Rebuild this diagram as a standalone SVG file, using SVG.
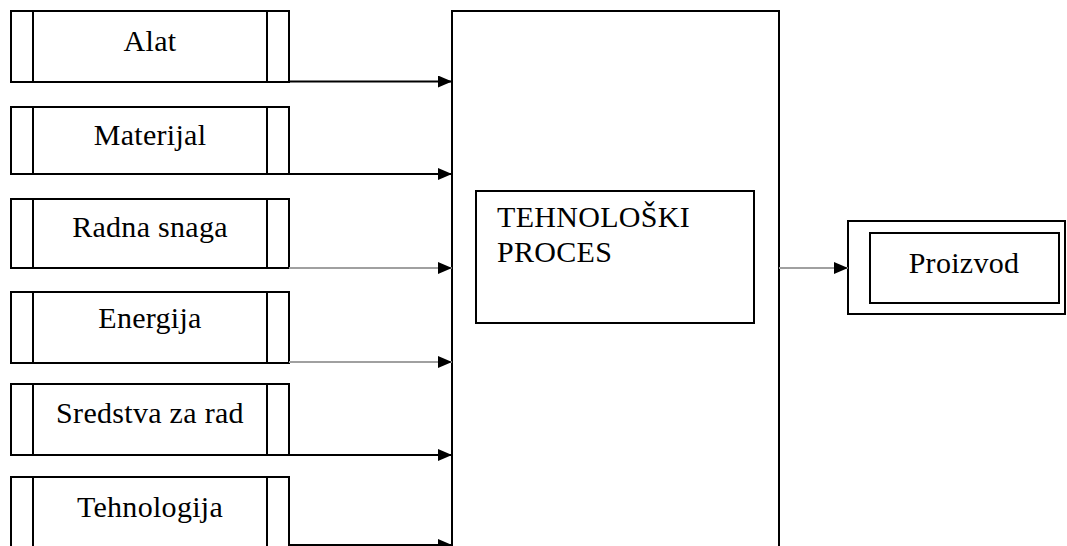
<svg xmlns="http://www.w3.org/2000/svg" width="1067" height="546" viewBox="0 0 1067 546">
<defs>
<style>
.box{fill:#fff;stroke:#000;stroke-width:2}
.ln{fill:none;stroke:#000;stroke-width:2}
.conn{fill:none;stroke:#000;stroke-width:2}
.gray{stroke:#a0a0a0}
.lbl{font-family:"Liberation Serif","Times New Roman",serif;font-size:30px;letter-spacing:0.3px;fill:#000}
.mid{text-anchor:middle}
</style>
<marker id="arr" viewBox="0 0 14 12" refX="14" refY="6" markerWidth="14" markerHeight="12" markerUnits="userSpaceOnUse" orient="auto">
<path d="M0,0 L14,6 L0,12 Z" fill="#000"/>
</marker>
</defs>
<rect width="1067" height="546" fill="#fff"/>
<g id="n-alat">
<rect class="box" x="11" y="11" width="278" height="71"/>
<path class="ln" d="M33,11 V82 M267,11 V82"/>
<text class="lbl mid" x="150" y="51">Alat</text>
</g>
<g id="n-materijal">
<rect class="box" x="11" y="107" width="278" height="67"/>
<path class="ln" d="M33,107 V174 M267,107 V174"/>
<text class="lbl mid" x="150" y="145">Materijal</text>
</g>
<g id="n-radna">
<rect class="box" x="11" y="199" width="278" height="69"/>
<path class="ln" d="M33,199 V268 M267,199 V268"/>
<text class="lbl mid" x="150" y="237">Radna snaga</text>
</g>
<g id="n-energija">
<rect class="box" x="11" y="292" width="278" height="71"/>
<path class="ln" d="M33,292 V363 M267,292 V363"/>
<text class="lbl mid" x="150" y="328">Energija</text>
</g>
<g id="n-sredstva">
<rect class="box" x="11" y="384" width="278" height="71"/>
<path class="ln" d="M33,384 V455 M267,384 V455"/>
<text class="lbl mid" x="150" y="423">Sredstva za rad</text>
</g>
<g id="n-tehnologija">
<rect class="box" x="11" y="477" width="278" height="80"/>
<path class="ln" d="M33,477 V557 M267,477 V557"/>
<text class="lbl mid" x="150" y="517">Tehnologija</text>
</g>
<g id="n-proces">
<rect class="box" x="452" y="11" width="327" height="560"/>
<rect class="box" x="476" y="191" width="278" height="132"/>
<text class="lbl" x="497" y="227">TEHNOLOŠKI</text>
<text class="lbl" x="497" y="262">PROCES</text>
</g>
<g id="n-proizvod">
<rect class="box" x="848" y="221" width="217" height="93"/>
<rect class="box" x="870" y="233" width="189" height="70"/>
<text class="lbl mid" x="964" y="273">Proizvod</text>
</g>
<g id="connectors">
<line class="conn" x1="289" y1="81.5" x2="452" y2="81.5" marker-end="url(#arr)"/>
<line class="conn" x1="289" y1="174" x2="452" y2="174" marker-end="url(#arr)"/>
<line class="conn gray" x1="289" y1="268" x2="452" y2="268" marker-end="url(#arr)"/>
<line class="conn gray" x1="289" y1="362" x2="452" y2="362" marker-end="url(#arr)"/>
<line class="conn" x1="289" y1="455" x2="452" y2="455" marker-end="url(#arr)"/>
<line class="conn" x1="289" y1="545" x2="452" y2="545" marker-end="url(#arr)"/>
<line class="conn gray" x1="779" y1="268" x2="848" y2="268" marker-end="url(#arr)"/>
</g>
</svg>
